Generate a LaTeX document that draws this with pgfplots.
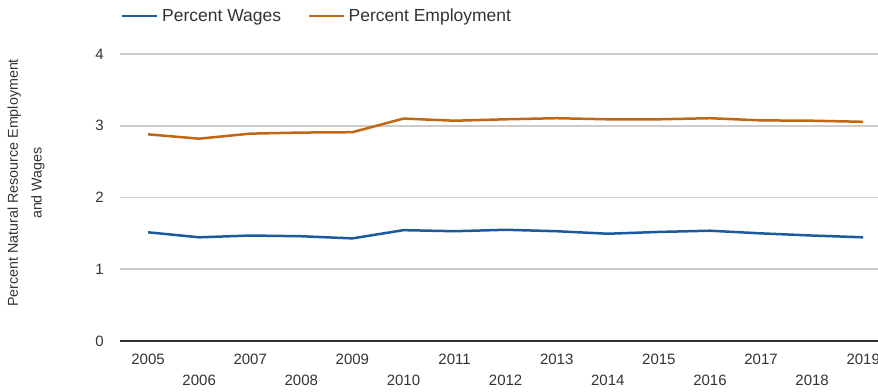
\documentclass[border=0pt]{standalone}
\usepackage{pgfplots}
\pgfplotsset{compat=1.18}
\usepackage{fontspec}
\setmainfont{Liberation Sans}
\definecolor{wageblue}{RGB}{28,90,155}
\definecolor{emporange}{RGB}{193,102,18}
\definecolor{txt}{RGB}{51,51,51}
\definecolor{gridgray}{RGB}{204,204,204}
\begin{document}
\begin{tikzpicture}
\begin{axis}[
  at={(120pt,50pt)}, anchor=south west,
  scale only axis, width=758pt, height=287pt,
  xmin=2004.45, xmax=2019.29, ymin=0, ymax=4,
  axis line style={draw=none},
  major tick length=0pt,
  xtick={2005,2007,...,2019},
  extra x ticks={2006,2008,...,2018},
  extra x tick style={xticklabel style={yshift=-21pt}},
  xticklabel style={anchor=center, yshift=-18pt, inner sep=0pt, font=\fontsize{15}{18}\selectfont, text=txt, /pgf/number format/1000 sep={}},
  ytick={1,2,3,4},
  extra y ticks={0},
  extra y tick style={ymajorgrids=true, grid style={draw=txt, line width=2.4pt}},
  yticklabel style={anchor=east, xshift=-16pt, inner sep=0pt, font=\fontsize{15}{18}\selectfont, text=txt},
  /pgf/number format/assume math mode=true,
  ymajorgrids, grid style={draw=gridgray, line width=1.7pt},
  ylabel={Percent Natural Resource Employment\\and Wages},
  ylabel style={at={(axis description cs:-0.124,0.5505)}, anchor=center, align=center, font=\fontsize{14.3}{23.7}\selectfont, text=txt},
  legend columns=2,
  legend style={at={(axis description cs:0.0013,1.1324)}, anchor=west, draw=none, fill=none,
    font=\fontsize{17.5}{20}\selectfont, text=txt, inner sep=0pt,
    nodes={inner xsep=3.5pt, inner ysep=0pt},
    /tikz/every even column/.append style={column sep=23pt}},
  legend image code/.code={\draw[#1, line width=2.5pt] (0pt,0pt) -- (35pt,0pt);},
]
\addplot[wageblue, line width=2.5pt] coordinates {
(2005,1.515) (2006,1.445) (2007,1.47) (2008,1.46) (2009,1.43)
(2010,1.545) (2011,1.53) (2012,1.55) (2013,1.53) (2014,1.495)
(2015,1.52) (2016,1.537) (2017,1.50) (2018,1.47) (2019,1.445)};
\addlegendentry{Percent Wages}
\addplot[emporange, line width=2.5pt] coordinates {
(2005,2.88) (2006,2.82) (2007,2.89) (2008,2.905) (2009,2.91)
(2010,3.10) (2011,3.07) (2012,3.09) (2013,3.105) (2014,3.09)
(2015,3.09) (2016,3.105) (2017,3.075) (2018,3.07) (2019,3.055)};
\addlegendentry{Percent Employment}
\end{axis}
\pgfresetboundingbox
\useasboundingbox (0,0) rectangle (878pt,391pt);
\end{tikzpicture}
\end{document}
